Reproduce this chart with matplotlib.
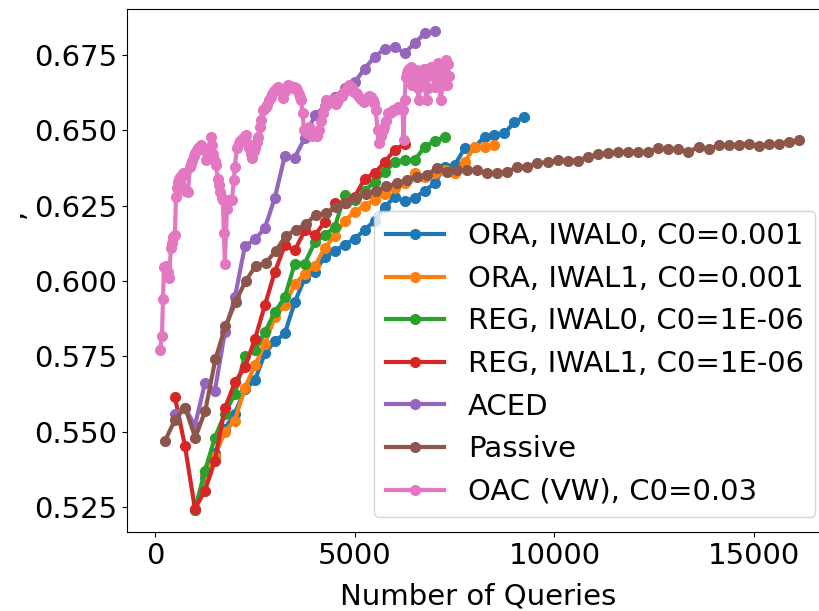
import numpy as np
import matplotlib
matplotlib.use("Agg")
import matplotlib.pyplot as plt

# data
ora0_x = list(range(1000, 9251, 250))
ora0_y = [0.524, 0.535, 0.543, 0.551, 0.556, 0.564, 0.567, 0.576, 0.580, 0.5826,
          0.593, 0.601, 0.603, 0.608, 0.610, 0.612, 0.614, 0.617, 0.620, 0.6245,
          0.628, 0.6265, 0.6275, 0.630, 0.6324, 0.638, 0.6384, 0.644, 0.6445,
          0.6478, 0.6484, 0.649, 0.6528, 0.6545]

ora1_x = list(range(1000, 8501, 250))
ora1_y = [0.524, 0.536, 0.542, 0.550, 0.5537, 0.5645, 0.572, 0.579, 0.588, 0.592,
          0.599, 0.6025, 0.605, 0.611, 0.615, 0.620, 0.623, 0.625, 0.627, 0.629,
          0.631, 0.6324, 0.6358, 0.6345, 0.6358, 0.6368, 0.636, 0.6395, 0.6445,
          0.6445, 0.645]

reg0_x = list(range(1000, 7251, 250))
reg0_y = [0.524, 0.537, 0.548, 0.556, 0.5626, 0.575, 0.577, 0.583, 0.5897, 0.5946,
          0.6058, 0.6058, 0.6129, 0.6152, 0.6179, 0.6285, 0.6268, 0.630, 0.6329,
          0.6362, 0.6395, 0.6401, 0.6401, 0.6445, 0.6465, 0.6478]

reg1_x = list(range(500, 6251, 250))
reg1_y = [0.5614, 0.5453, 0.5244, 0.5304, 0.5404, 0.5577, 0.5664, 0.5714, 0.5806,
          0.5919, 0.603, 0.6118, 0.6102, 0.6168, 0.6152, 0.6196, 0.6258, 0.6258,
          0.6279, 0.634, 0.6358, 0.6395, 0.6435, 0.6455]

aced_x = list(range(500, 7001, 250))
aced_y = [0.556, 0.558, 0.552, 0.566, 0.5636, 0.583, 0.5946, 0.6115, 0.6138, 0.6175,
          0.6276, 0.6415, 0.641, 0.6475, 0.655, 0.658, 0.6611, 0.664, 0.666, 0.6705,
          0.6745, 0.677, 0.6778, 0.6756, 0.679, 0.6822, 0.683]

passive_x = list(range(252, 16129, 252))
passive_y = [0.547, 0.554, 0.558, 0.548, 0.557, 0.574, 0.585, 0.593, 0.600, 0.605,
             0.606, 0.610, 0.615, 0.617, 0.619, 0.622, 0.6225, 0.6246, 0.6258, 0.6275,
             0.629, 0.630, 0.6314, 0.6324, 0.6334, 0.6344, 0.6352, 0.6374, 0.6362,
             0.6368, 0.6368, 0.6368, 0.6358, 0.6359, 0.6362, 0.6379, 0.638, 0.6391,
             0.6395, 0.6401, 0.640, 0.640, 0.6412, 0.642, 0.6425, 0.6427, 0.6429,
             0.6429, 0.6429, 0.644, 0.6437, 0.6437, 0.6429, 0.6445, 0.6437, 0.6451,
             0.6451, 0.6451, 0.6456, 0.6448, 0.6454, 0.6454, 0.6462, 0.6467]

oac_x = [125, 175, 200, 225, 250, 275, 325, 350, 400, 425, 450, 500, 525, 550, 575,
         600, 625, 675, 700, 750, 800, 825, 875, 900, 925, 975, 1000, 1050, 1075, 1125,
         1150, 1200, 1225, 1275, 1325, 1350, 1400, 1425, 1450, 1500, 1525, 1575, 1600,
         1625, 1675, 1700, 1725, 1750, 1800, 1850, 1875, 1925, 1975, 2000, 2050, 2100,
         2125, 2175, 2200, 2250, 2275, 2325, 2350, 2400, 2425, 2475, 2500, 2550, 2575,
         2625, 2650, 2700, 2725, 2775, 2800, 2850, 2900, 2925, 2975, 3000, 3050, 3075,
         3125, 3150, 3200, 3250, 3275, 3325, 3375, 3400, 3450, 3475, 3525, 3550, 3600,
         3625, 3650, 3700, 3725, 3775, 3800, 3850, 3900, 3925, 3975, 4025, 4050, 4100,
         4150, 4200, 4250, 4275, 4325, 4350, 4400, 4450, 4475, 4525, 4575, 4600, 4650,
         4675, 4725, 4775, 4800, 4850, 4900, 4925, 4975, 5025, 5050, 5100, 5150, 5175,
         5225, 5275, 5300, 5350, 5400, 5450, 5475, 5525, 5575, 5600, 5650, 5700, 5725,
         5775, 5825, 5875, 5900, 5950, 6000, 6025, 6075, 6125, 6150, 6200, 6225, 6250,
         6275, 6300, 6325, 6350, 6400, 6425, 6450, 6500, 6525, 6550, 6575, 6600, 6625,
         6650, 6700, 6725, 6750, 6800, 6825, 6850, 6875, 6900, 6925, 6950, 7000, 7025,
         7050, 7075, 7100, 7125, 7150, 7200, 7225, 7250, 7275, 7300, 7325, 7350]
oac_y = [0.5772, 0.5819, 0.594, 0.6045, 0.6048, 0.605, 0.603, 0.6009, 0.6108, 0.6125,
         0.6146, 0.6152, 0.6278, 0.631, 0.633, 0.634, 0.6344, 0.6350, 0.6357, 0.630,
         0.6298, 0.6295, 0.6378, 0.639, 0.640, 0.6415, 0.6424, 0.6435, 0.644, 0.6446,
         0.645, 0.6442, 0.6434, 0.6401, 0.6425, 0.644, 0.6478, 0.645, 0.6423, 0.640,
         0.6384, 0.634, 0.632, 0.6295, 0.6275, 0.6268, 0.6158, 0.6058, 0.624, 0.6268,
         0.6268, 0.6268, 0.6334, 0.638, 0.644, 0.6458, 0.6465, 0.647, 0.6473, 0.648,
         0.6484, 0.6455, 0.644, 0.642, 0.6407, 0.643, 0.644, 0.646, 0.6478, 0.651,
         0.6534, 0.6567, 0.657, 0.6578, 0.6585, 0.660, 0.661, 0.662, 0.663, 0.6634,
         0.664, 0.6644, 0.6638, 0.663, 0.6607, 0.663, 0.664, 0.665, 0.6648, 0.6644,
         0.6642, 0.6644, 0.664, 0.6634, 0.662, 0.661, 0.660, 0.6557, 0.6501, 0.6495,
         0.649, 0.6511, 0.6495, 0.648, 0.649, 0.6485, 0.648, 0.6501, 0.653, 0.6557,
         0.658, 0.660, 0.6595, 0.659, 0.660, 0.6602, 0.6605, 0.6589, 0.660, 0.6611,
         0.6613, 0.6615, 0.6628, 0.6635, 0.664, 0.665, 0.6645, 0.664, 0.6628, 0.6625,
         0.662, 0.6611, 0.6605, 0.660, 0.6595, 0.660, 0.6605, 0.6615, 0.6611, 0.660,
         0.659, 0.6567, 0.650, 0.6457, 0.648, 0.650, 0.6511, 0.653, 0.6557, 0.6558,
         0.656, 0.6567, 0.6568, 0.657, 0.6578, 0.6575, 0.657, 0.6567, 0.6467, 0.660,
         0.6677, 0.669, 0.670, 0.6705, 0.671, 0.665, 0.669, 0.670, 0.670, 0.6665,
         0.664, 0.660, 0.665, 0.668, 0.670, 0.6705, 0.665, 0.660, 0.664, 0.669,
         0.670, 0.671, 0.6695, 0.668, 0.6644, 0.6675, 0.670, 0.6723, 0.669, 0.666,
         0.660, 0.665, 0.670, 0.6725, 0.6733, 0.665, 0.672, 0.668]

series = [
    (ora0_x, ora0_y, "ORA, IWAL0, C0=0.001"),
    (ora1_x, ora1_y, "ORA, IWAL1, C0=0.001"),
    (reg0_x, reg0_y, "REG, IWAL0, C0=1E-06"),
    (reg1_x, reg1_y, "REG, IWAL1, C0=1E-06"),
    (aced_x, aced_y, "ACED"),
    (passive_x, passive_y, "Passive"),
    (oac_x, oac_y, "OAC (VW), C0=0.03"),
]

plt.rcParams['font.size'] = 21

fig = plt.figure(figsize=(8.2, 6.11), dpi=100)
# axes run past the right edge, as in the cropped reference
ax = fig.add_axes([0.1549, 0.1293, 0.8573, 0.8560])

for xs, ys, label in series:
    ax.plot(xs, ys, marker='o', linewidth=3, markersize=7, label=label)

ax.set_xlim(-700, 16900)
ax.set_ylim(0.5167, 0.6903)
ax.set_xticks([0, 5000, 10000, 15000])
ax.set_yticks([0.525, 0.55, 0.575, 0.6, 0.625, 0.65, 0.675])
ax.set_xlabel("Number of Queries", labelpad=9)
ax.legend(loc='lower right')

# tail of the cropped y label
fig.text(15 / 820, 1 - 213 / 611, ",", rotation=90, ha='center', va='center')

fig.savefig("out.png", dpi=100)
